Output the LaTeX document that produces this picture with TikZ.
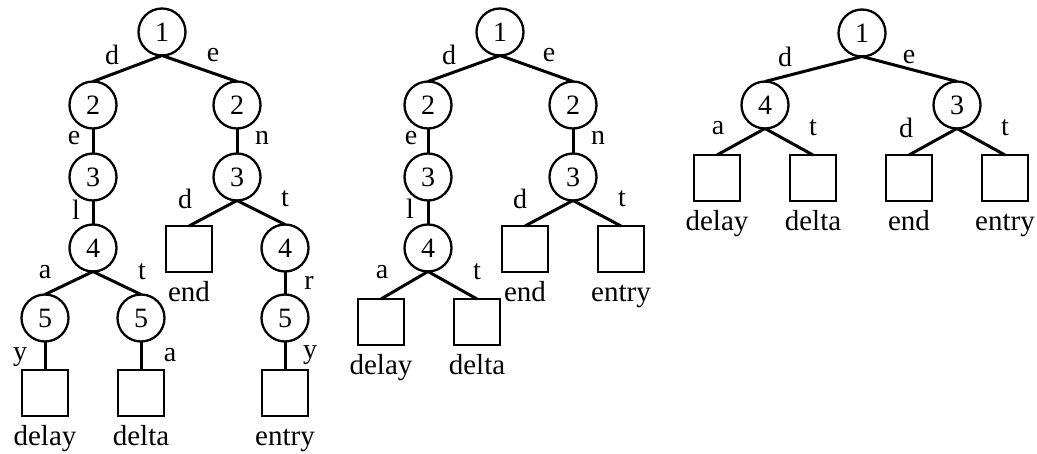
\documentclass[tikz,border=0pt]{standalone}
\usepackage{fontspec}
\setmainfont{Liberation Serif}
\begin{document}
\begin{tikzpicture}[x=1pt,y=-1pt,
  inode/.style={circle,draw,line width=2.3pt,minimum size=47pt,inner sep=0pt,outer sep=0pt,
    font=\fontsize{28}{28}\selectfont},
  leaf/.style={rectangle,draw,line width=2.3pt,minimum size=46pt,inner sep=0pt,outer sep=0pt},
  word/.style={anchor=base,inner sep=0pt,font=\fontsize{29}{29}\selectfont},
  elab/.style={inner sep=0pt,font=\fontsize{28}{28}\selectfont},
  branch/.style={line width=3pt}]
\useasboundingbox (0,0) rectangle (1037,454);

% ---------- first trie ----------
\node[inode] (p1) at (162,32) {1};
\node[inode] (p2a) at (93,105) {2};
\node[inode] (p2b) at (237,105) {2};
\node[inode] (p3a) at (93,177) {3};
\node[inode] (p3b) at (237,177) {3};
\node[inode] (p4a) at (93,248) {4};
\node[inode] (p4b) at (285,248) {4};
\node[inode] (p5a) at (45,318) {5};
\node[inode] (p5b) at (141,318) {5};
\node[inode] (p5c) at (285,318) {5};
\node[leaf] (pdelay) at (45,393) {};
\node[leaf] (pdelta) at (141,393) {};
\node[leaf] (pend) at (189,249) {};
\node[leaf] (pentry) at (285,393) {};
\node[word] (wpdelay) at ([yshift=-30pt]pdelay.south) {delay};
\node[word] (wpdelta) at ([yshift=-30pt]pdelta.south) {delta};
\node[word] (wpend) at ([yshift=-30pt]pend.south) {end};
\node[word] (wpentry) at ([yshift=-30pt]pentry.south) {entry};
\draw[branch] (p1.south) -- (p2a.north);
\draw[branch] (p1.south) -- (p2b.north);
\draw[branch] (p2a.south) -- (p3a.north);
\draw[branch] (p2b.south) -- (p3b.north);
\draw[branch] (p3a.south) -- (p4a.north);
\draw[branch] (p3b.south) -- (pend.north);
\draw[branch] (p3b.south) -- (p4b.north);
\draw[branch] (p4a.south) -- (p5a.north);
\draw[branch] (p4a.south) -- (p5b.north);
\draw[branch] (p4b.south) -- (p5c.north);
\draw[branch] (p5a.south) -- (pdelay.north);
\draw[branch] (p5b.south) -- (pdelta.north);
\draw[branch] (p5c.south) -- (pentry.north);
\node[elab] (pl1) at (112,55) {d};
\node[elab] (pl2) at (213,55) {e};
\node[elab] (pl3) at (74,138) {e};
\node[elab] (pl4) at (262,138) {n};
\node[elab] (pl5) at (76,210) {l};
\node[elab] (pl6) at (185,199) {d};
\node[elab] (pl7) at (285,199) {t};
\node[elab] (pl8) at (45,272) {a};
\node[elab] (pl9) at (142,272) {t};
\node[elab] (pl10) at (309,283) {r};
\node[elab] (pl11) at (20,357) {y};
\node[elab] (pl12) at (170,355) {a};
\node[elab] (pl13) at (310,355) {y};

% ---------- second trie ----------
\node[inode] (q1) at (500,32) {1};
\node[inode] (q2a) at (428,105) {2};
\node[inode] (q2b) at (573,105) {2};
\node[inode] (q3a) at (428,177) {3};
\node[inode] (q3b) at (573,177) {3};
\node[inode] (q4a) at (428,248) {4};
\node[leaf] (qdelay) at (381,322) {};
\node[leaf] (qdelta) at (477,322) {};
\node[leaf] (qend) at (525,249) {};
\node[leaf] (qentry) at (621,249) {};
\node[word] (wqdelay) at ([yshift=-30pt]qdelay.south) {delay};
\node[word] (wqdelta) at ([yshift=-30pt]qdelta.south) {delta};
\node[word] (wqend) at ([yshift=-30pt]qend.south) {end};
\node[word] (wqentry) at ([yshift=-30pt]qentry.south) {entry};
\draw[branch] (q1.south) -- (q2a.north);
\draw[branch] (q1.south) -- (q2b.north);
\draw[branch] (q2a.south) -- (q3a.north);
\draw[branch] (q2b.south) -- (q3b.north);
\draw[branch] (q3a.south) -- (q4a.north);
\draw[branch] (q3b.south) -- (qend.north);
\draw[branch] (q3b.south) -- (qentry.north);
\draw[branch] (q4a.south) -- (qdelay.north);
\draw[branch] (q4a.south) -- (qdelta.north);
\node[elab] (ql1) at (449,55) {d};
\node[elab] (ql2) at (549,55) {e};
\node[elab] (ql3) at (411,138) {e};
\node[elab] (ql4) at (598,138) {n};
\node[elab] (ql5) at (410,209) {l};
\node[elab] (ql6) at (520,199) {d};
\node[elab] (ql7) at (622,199) {t};
\node[elab] (ql8) at (382,272) {a};
\node[elab] (ql9) at (477,272) {t};

% ---------- third trie ----------
\node[inode] (r1) at (862,33) {1};
\node[inode] (r4) at (765,105) {4};
\node[inode] (r3) at (957,105) {3};
\node[leaf] (rdelay) at (717,178) {};
\node[leaf] (rdelta) at (813,178) {};
\node[leaf] (rend) at (909,178) {};
\node[leaf] (rentry) at (1005,178) {};
\node[word] (wrdelay) at ([yshift=-30pt]rdelay.south) {delay};
\node[word] (wrdelta) at ([yshift=-30pt]rdelta.south) {delta};
\node[word] (wrend) at ([yshift=-30pt]rend.south) {end};
\node[word] (wrentry) at ([yshift=-30pt]rentry.south) {entry};
\draw[branch] (r1.south) -- (r4.north);
\draw[branch] (r1.south) -- (r3.north);
\draw[branch] (r4.south) -- (rdelay.north);
\draw[branch] (r4.south) -- (rdelta.north);
\draw[branch] (r3.south) -- (rend.north);
\draw[branch] (r3.south) -- (rentry.north);
\node[elab] (rl1) at (785,57) {d};
\node[elab] (rl2) at (909,57) {e};
\node[elab] (rl3) at (718,128) {a};
\node[elab] (rl4) at (813,128) {t};
\node[elab] (rl5) at (906,128) {d};
\node[elab] (rl6) at (1005,128) {t};
\end{tikzpicture}
\end{document}
